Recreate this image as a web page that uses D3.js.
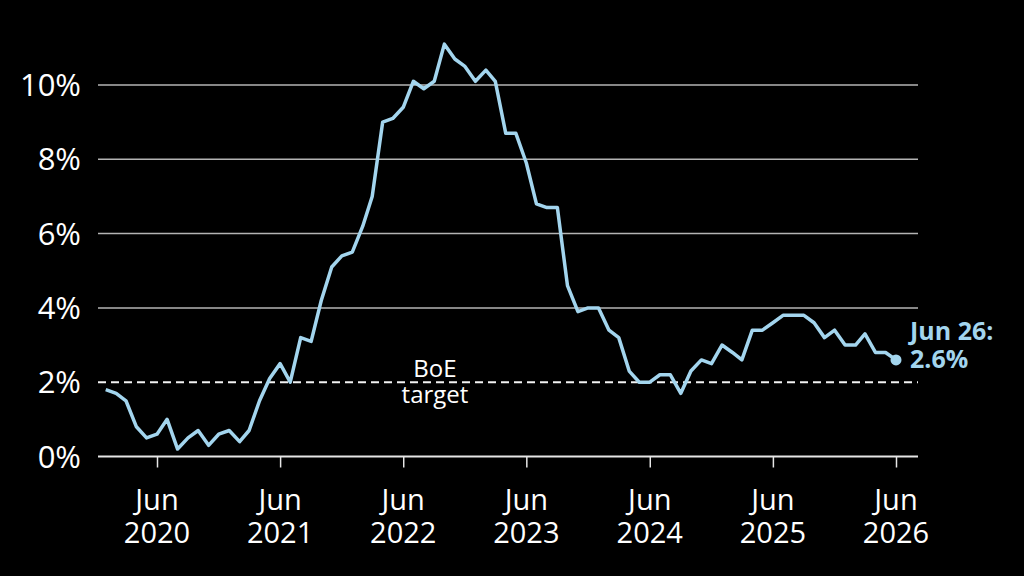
<!DOCTYPE html>
<html>
<head>
<meta charset="utf-8">
<script src="https://cdn.jsdelivr.net/npm/d3@7"></script>
<style>
  html, body { margin: 0; padding: 0; background: #000; }
  svg { display: block; font-family: "Open Sans", sans-serif; }
</style>
</head>
<body>
<script>
// UK CPI inflation, monthly, Jan 2020 - Jun 2026
var startYear = 2020;
var cpi = [
  1.8, 1.7, 1.5, 0.8, 0.5, 0.6, 1.0, 0.2, 0.5, 0.7, 0.3, 0.6,   // 2020
  0.7, 0.4, 0.7, 1.5, 2.1, 2.5, 2.0, 3.2, 3.1, 4.2, 5.1, 5.4,   // 2021
  5.5, 6.2, 7.0, 9.0, 9.1, 9.4, 10.1, 9.9, 10.1, 11.1, 10.7, 10.5, // 2022
  10.1, 10.4, 10.1, 8.7, 8.7, 7.9, 6.8, 6.7, 6.7, 4.6, 3.9, 4.0, // 2023
  4.0, 3.4, 3.2, 2.3, 2.0, 2.0, 2.2, 2.2, 1.7, 2.3, 2.6, 2.5,   // 2024
  3.0, 2.8, 2.6, 3.4, 3.4, 3.6, 3.8, 3.8, 3.8, 3.6, 3.2, 3.4,   // 2025
  3.0, 3.0, 3.3, 2.8, 2.8, 2.6                                  // 2026
];
var tickYears = [2020, 2021, 2022, 2023, 2024, 2025, 2026];
var yTicks = [0, 2, 4, 6, 8, 10];
var target = 2;
var endLabel = ["Jun 26:", "2.6%"];

var data = cpi.map(function (v, i) {
  return { date: new Date(startYear, i, 1), value: v };
});

var w = 1024, h = 576;
var gridLeft = 98, gridRight = 918;
var lineColor = "#a3d5ee";

var svg = d3.select("body").append("svg").attr("width", w).attr("height", h);
svg.append("rect").attr("width", w).attr("height", h).attr("fill", "#000");

var x = d3.scaleTime()
  .domain([new Date(2020, 5, 1), new Date(2026, 5, 1)])
  .range([157, 896]);
var y = d3.scaleLinear().domain([0, 10]).range([456.5, 85]);

// gridlines
svg.append("g").selectAll("line")
  .data(yTicks.filter(function (d) { return d !== 0 && d !== target; }))
  .enter().append("line")
  .attr("x1", gridLeft).attr("x2", gridRight)
  .attr("y1", function (d) { return y(d); })
  .attr("y2", function (d) { return y(d); })
  .attr("stroke", "#b4b4b4")
  .attr("stroke-width", 1.5);

// y labels
svg.append("g").selectAll("text")
  .data(yTicks)
  .enter().append("text")
  .attr("x", 81)
  .attr("y", function (d) { return y(d); })
  .attr("dy", "0.36em")
  .attr("text-anchor", "end")
  .attr("fill", "#fff")
  .attr("font-size", 31)
  .text(function (d) { return d + "%"; });

// BoE target
svg.append("line")
  .attr("x1", gridLeft).attr("x2", gridRight)
  .attr("y1", y(target)).attr("y2", y(target))
  .attr("stroke", "#f2f2f2")
  .attr("stroke-width", 2)
  .attr("stroke-dasharray", "8,5");

svg.append("text").attr("x", 435).attr("y", 377)
  .attr("text-anchor", "middle").attr("fill", "#fff").attr("font-size", 24)
  .text("BoE");
svg.append("text").attr("x", 435).attr("y", 403)
  .attr("text-anchor", "middle").attr("fill", "#fff").attr("font-size", 24)
  .text("target");

// x axis
var ticks = tickYears.map(function (yr) { return new Date(yr, 5, 1); });
var xAxis = d3.axisBottom(x).tickValues(ticks).tickSize(11).tickFormat("");
var gx = svg.append("g").attr("transform", "translate(0," + y(0) + ")").call(xAxis);
gx.select(".domain").remove();
gx.selectAll(".tick line").attr("stroke", "#e6e6e6").attr("stroke-width", 1.5);

svg.append("line")
  .attr("x1", gridLeft).attr("x2", gridRight)
  .attr("y1", y(0)).attr("y2", y(0))
  .attr("stroke", "#e6e6e6")
  .attr("stroke-width", 2);

var labels = svg.append("g");
ticks.forEach(function (d) {
  labels.append("text")
    .attr("x", x(d)).attr("y", 510)
    .attr("text-anchor", "middle").attr("fill", "#fff").attr("font-size", 29)
    .text("Jun");
  labels.append("text")
    .attr("x", x(d)).attr("y", 543)
    .attr("text-anchor", "middle").attr("fill", "#fff").attr("font-size", 29)
    .text(d.getFullYear());
});

// line
var line = d3.line()
  .x(function (d) { return x(d.date); })
  .y(function (d) { return y(d.value); });

svg.append("path")
  .datum(data)
  .attr("d", line)
  .attr("fill", "none")
  .attr("stroke", lineColor)
  .attr("stroke-width", 3.5)
  .attr("stroke-linejoin", "round");

var last = data[data.length - 1];
svg.append("circle")
  .attr("cx", x(last.date)).attr("cy", y(last.value))
  .attr("r", 5.5)
  .attr("fill", lineColor);

svg.append("text").attr("x", 910).attr("y", 340)
  .attr("fill", lineColor).attr("font-size", 25).attr("font-weight", "bold")
  .text(endLabel[0]);
svg.append("text").attr("x", 910).attr("y", 368)
  .attr("fill", lineColor).attr("font-size", 25).attr("font-weight", "bold")
  .text(endLabel[1]);
</script>
</body>
</html>
